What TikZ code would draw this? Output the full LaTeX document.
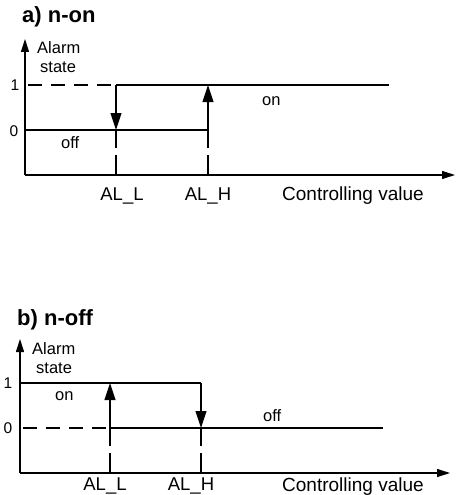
\documentclass[tikz,border=0pt]{standalone}
\usepackage{fontspec}
\setmainfont{Liberation Sans}
\usetikzlibrary{arrows.meta}
\begin{document}
\begin{tikzpicture}[x=1pt,y=-1pt,
  solidline/.style={line width=1.1pt},
  axisline/.style={line width=1.1pt,-{Triangle[length=13pt,width=8pt]}},
  transarrow/.style={line width=1.1pt,-{Triangle[length=17pt,width=11pt]}},
  hdash/.style={line width=1.1pt,dash pattern=on 14pt off 9pt},
  vdash/.style={line width=1.1pt,dash pattern=on 20pt off 7pt},
  titletext/.style={inner sep=0pt,anchor=base west,font=\fontsize{22}{26}\selectfont\bfseries},
  smalltext/.style={inner sep=0pt,anchor=base west,font=\fontsize{16.5}{19}\selectfont},
  digittext/.style={inner sep=0pt,anchor=base,font=\fontsize{15.5}{18}\selectfont},
  altext/.style={inner sep=0pt,anchor=base,font=\fontsize{18.5}{21}\selectfont},
  cvtext/.style={inner sep=0pt,anchor=base west,font=\fontsize{19}{22}\selectfont}
]
\useasboundingbox (0,0) rectangle (456,495);

% ---------- a) n-on ----------
\coordinate (aO) at (25,175);
\coordinate (aY) at (25,39);
\coordinate (aX) at (455,175);
\coordinate (a1s) at (28,85);
\coordinate (aL1) at (116,85);
\coordinate (aL0) at (116,130);
\coordinate (aLb) at (116,175);
\coordinate (aH1) at (208,85);
\coordinate (aH0) at (208,130);
\coordinate (aHb) at (208,175);
\coordinate (a1e) at (389,85);
\coordinate (a0s) at (25,130);

\draw[axisline] (aO) -- (aY);
\draw[axisline] (aO) -- (aX);
\draw[hdash] (a1s) -- (aL1);
\draw[solidline] (aL1) -- (a1e);
\draw[solidline] (a0s) -- (aH0);
\draw[transarrow] (aL1) -- (aL0);
\draw[transarrow] (aH0) -- (aH1);
\draw[vdash] (aLb) -- (aL0);
\draw[vdash] (aHb) -- (aH0);

\node[titletext] (atitle) at (22,23) {a) n-on};
\node[smalltext] (aalarm) at (37,53) {Alarm};
\node[smalltext] (astate) at (40,73) {state};
\node[digittext] (aone) at (15,90) {1};
\node[digittext] (azero) at (14,136) {0};
\node[smalltext] (aon) at (262,105) {on};
\node[smalltext] (aoff) at (61,148) {off};
\node[altext] (aall) at (122,200) {AL\_L};
\node[altext] (aalh) at (208,200) {AL\_H};
\node[cvtext] (acv) at (282,200) {Controlling value};

% ---------- b) n-off ----------
\coordinate (bO) at (20,473);
\coordinate (bY) at (20,339);
\coordinate (bX) at (450,473);
\coordinate (b1s) at (20,383);
\coordinate (b0s) at (23,428);
\coordinate (bL1) at (110,383);
\coordinate (bL0) at (110,428);
\coordinate (bLb) at (110,473);
\coordinate (bH1) at (201,383);
\coordinate (bH0) at (201,428);
\coordinate (bHb) at (201,473);
\coordinate (b0e) at (383,428);

\draw[axisline] (bO) -- (bY);
\draw[axisline] (bO) -- (bX);
\draw[solidline] (b1s) -- (bH1);
\draw[hdash] (b0s) -- (bL0);
\draw[solidline] (bL0) -- (b0e);
\draw[transarrow] (bL0) -- (bL1);
\draw[transarrow] (bH1) -- (bH0);
\draw[vdash] (bLb) -- (bL0);
\draw[vdash] (bHb) -- (bH0);

\node[titletext] (btitle) at (17,325) {b) n-off};
\node[smalltext] (balarm) at (32,354) {Alarm};
\node[smalltext] (bstate) at (36,373) {state};
\node[digittext] (bone) at (8,388) {1};
\node[digittext] (bzero) at (8,433) {0};
\node[smalltext] (bon) at (55,400) {on};
\node[smalltext] (boff) at (263,421) {off};
\node[altext] (ball) at (105,490) {AL\_L};
\node[altext] (balh) at (191,490) {AL\_H};
\node[cvtext] (bcv) at (282,491) {Controlling value};
\end{tikzpicture}
\end{document}
